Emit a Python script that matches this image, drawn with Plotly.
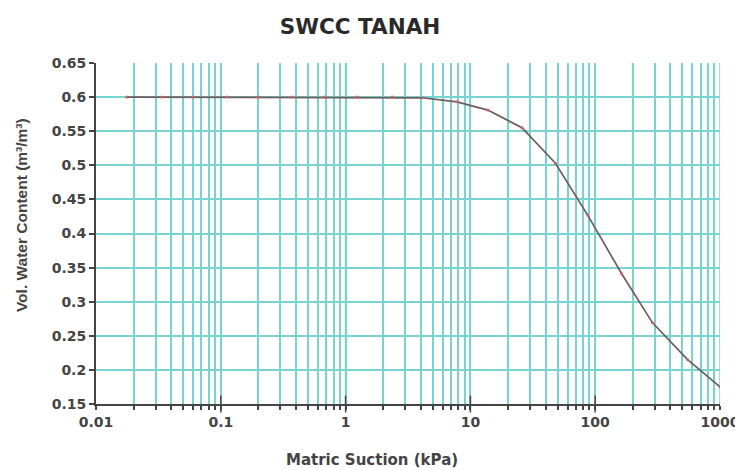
import plotly.graph_objects as go

suction_kpa = [0.0177, 0.0338, 0.06, 0.112, 0.2, 0.37, 0.68, 1.23, 2.36, 4.1, 7.8, 13.8,
               25.9, 48, 87, 163, 288, 550, 1000]
water_content = [0.6, 0.6, 0.6, 0.6, 0.6, 0.6, 0.6, 0.6, 0.6, 0.599, 0.593, 0.581,
                 0.555, 0.503, 0.427, 0.341, 0.269, 0.215, 0.175]

x_decades = [0.01, 0.1, 1, 10, 100, 1000]
x_decade_labels = ["0.01", "0.1", "1", "10", "100", "1000"]
y_range = [0.15, 0.65]
y_tickvals = [0.15, 0.2, 0.25, 0.3, 0.35, 0.4, 0.45, 0.5, 0.55, 0.6, 0.65]
y_ticktext = ["0.15", "0.2", "0.25", "0.3", "0.35", "0.4", "0.45", "0.5", "0.55", "0.6", "0.65"]

# log-paper grid: 1..9 within each decade
x_gridvals, x_gridtext = [], []
for d, lab in zip(x_decades[:-1], x_decade_labels[:-1]):
    for k in range(1, 10):
        x_gridvals.append(d * k)
        x_gridtext.append("<b>%s</b>" % lab if k == 1 else "")
x_gridvals.append(x_decades[-1])
x_gridtext.append("<b>%s</b>" % x_decade_labels[-1])

grid = "rgb(120,212,206)"
font_fam = "Liberation Sans, Arial, sans-serif"
tick_fam = "DejaVu Sans, sans-serif"

fig = go.Figure()

# decade grid lines (built from the decade tick list and the y range)
gx, gy = [], []
for d in x_decades[1:]:
    gx += [d, d, None]
    gy += [y_range[0], y_range[1], None]
fig.add_trace(go.Scatter(
    x=gx, y=gy, mode="lines", line=dict(color=grid, width=1.5),
    hoverinfo="skip", showlegend=False,
))

fig.add_trace(go.Scatter(
    x=suction_kpa, y=water_content, mode="lines+markers",
    line=dict(color="#6e5c5c", width=1.7),
    marker=dict(color="#d06060", size=3),
    showlegend=False,
))

# major tick marks crossing the x axis line at each decade
fig.add_trace(go.Scatter(
    x=x_decades[1:-1], y=[y_range[0]] * (len(x_decades) - 2), mode="markers",
    marker=dict(symbol="line-ns", size=12, line=dict(color="#444", width=1.5)),
    cliponaxis=False, hoverinfo="skip", showlegend=False,
))

fig.update_layout(
    width=735, height=462,
    margin=dict(l=88, r=23, t=55, b=66),
    paper_bgcolor="white", plot_bgcolor="white",
    title=dict(text="<b>SWCC TANAH</b>", x=0.479, xanchor="center", y=0.961, yanchor="middle",
               font=dict(family="DejaVu Sans, sans-serif", size=21.5, color="#2a2a2a")),
    font=dict(family=font_fam, color="#444"),
    annotations=[
        dict(text="<b>Matric Suction (kPa)</b>", xref="paper", yref="paper",
             x=0.442, y=0, xanchor="center", yanchor="middle", yshift=-56, showarrow=False,
             font=dict(family=tick_fam, size=15, color="#444")),
        dict(text="<b>Vol. Water Content (m³/m³)</b>", xref="paper", yref="paper",
             x=0, y=0.554, xanchor="center", yanchor="middle", xshift=-75, textangle=-90,
             showarrow=False, font=dict(family=font_fam, size=15.5, color="#444")),
    ],
)
fig.update_xaxes(
    type="log", range=[-2, 3], automargin=False,
    tickmode="array", tickvals=x_gridvals, ticktext=x_gridtext,
    tickfont=dict(family=tick_fam, size=14, color="#444"),
    showgrid=True, gridcolor=grid, gridwidth=1.5,
    showline=True, linecolor="#444", linewidth=2,
    ticks="outside", ticklen=4, tickcolor="#444", tickwidth=1.5,
    zeroline=False, mirror=False,
)
fig.update_yaxes(
    range=y_range, automargin=False,
    tickmode="array", tickvals=y_tickvals, ticktext=["<b>%s</b>" % t for t in y_ticktext],
    tickfont=dict(family=tick_fam, size=14, color="#444"),
    showgrid=True, gridcolor=grid, gridwidth=1.5,
    showline=True, linecolor="#444", linewidth=2,
    ticks="outside", ticklen=5, tickcolor="#444", tickwidth=1.5,
    zeroline=False,
)

fig.write_html("out.html")
